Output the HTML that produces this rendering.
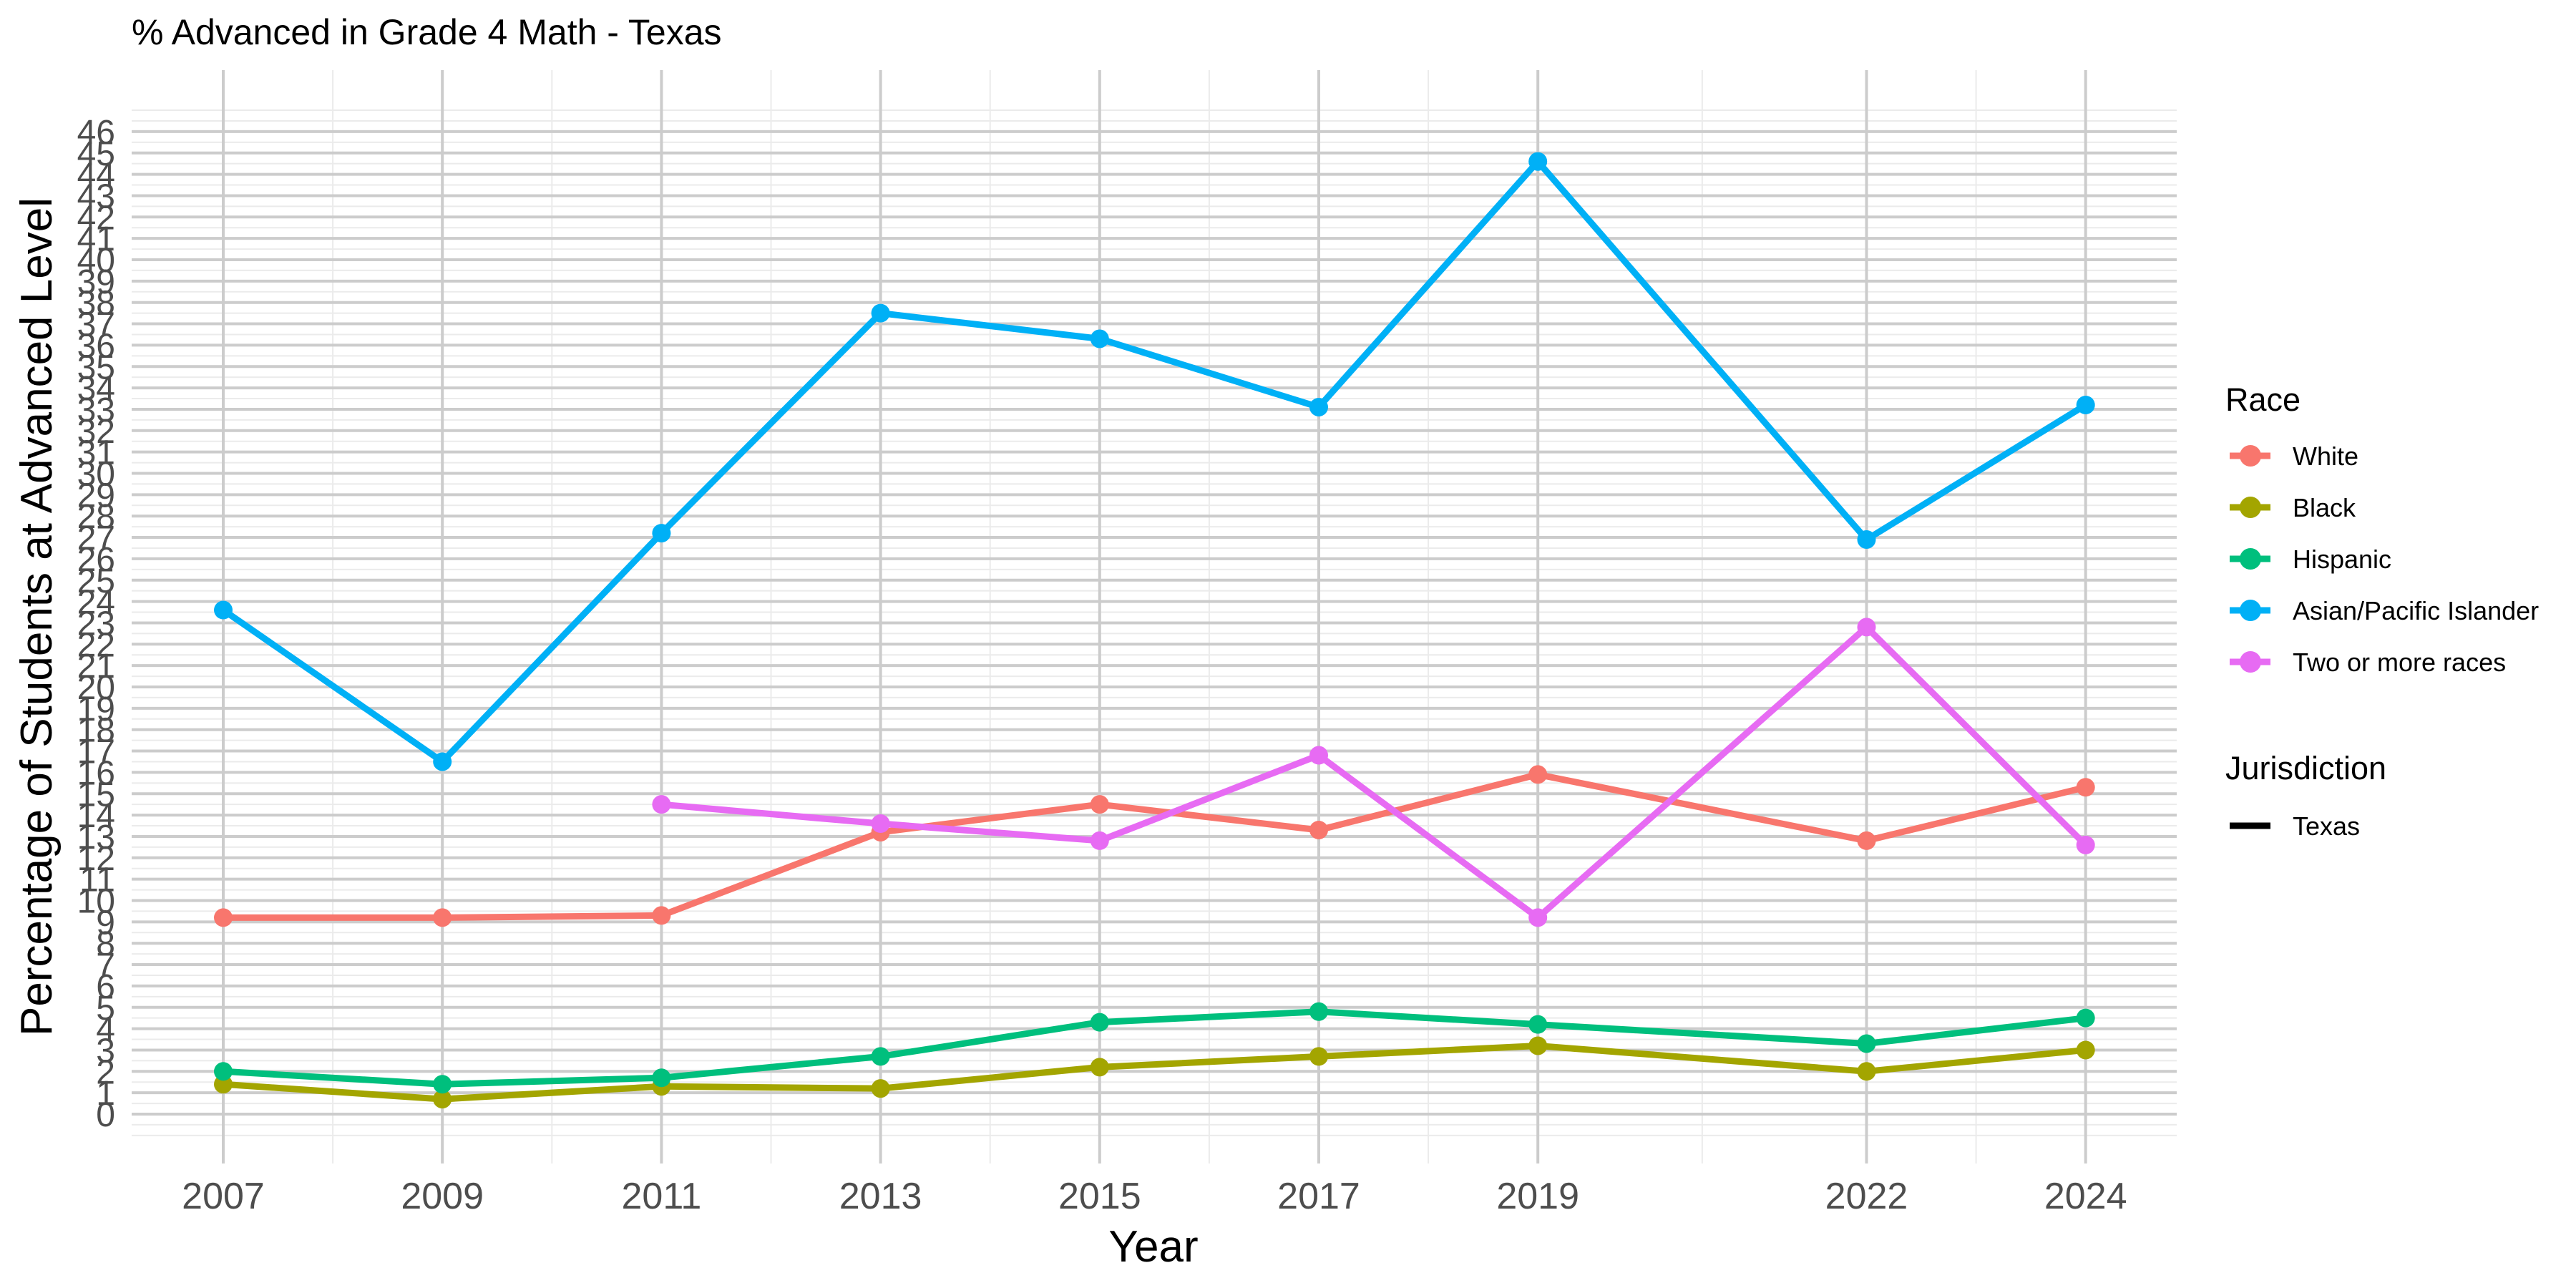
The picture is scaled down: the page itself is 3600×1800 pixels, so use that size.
<!DOCTYPE html>
<html><head><meta charset="utf-8"><style>
html,body{margin:0;padding:0;background:#fff;}
svg{display:block;font-family:"Liberation Sans",Arial,sans-serif;}
</style></head><body>
<svg id="chart" width="3600" height="1800" viewBox="0 0 3600 1800" xmlns="http://www.w3.org/2000/svg">
<rect width="3600" height="1800" fill="#fff"/>
<text x="184" y="62" font-size="50" fill="#000">% Advanced in Grade 4 Math - Texas</text>
<g id="grid"></g>
<g id="yticks"></g>
<g id="xticks"></g>
<g id="series"></g>
<text transform="translate(72,862) rotate(-90)" text-anchor="middle" font-size="62" fill="#000">Percentage of Students at Advanced Level</text>
<text x="1612" y="1763" text-anchor="middle" font-size="62" fill="#000">Year</text>
<g id="legend">
<text x="3110" y="574" font-size="45" fill="#000">Race</text>
<text x="3110" y="1089" font-size="45" fill="#000">Jurisdiction</text>
<line x1="3116" x2="3173" y1="1154" y2="1154" stroke="#000" stroke-width="9"/>
<text x="3204" y="1167" font-size="36" fill="#000">Texas</text>
</g>
</svg>
<script>
const years = [2007, 2009, 2011, 2013, 2015, 2017, 2019, 2022, 2024];
const raceNames = ["White", "Black", "Hispanic", "Asian/Pacific Islander", "Two or more races"];
const raceColors = ["#F8766D", "#A3A500", "#00BF7D", "#00B0F6", "#E76BF3"];
const whiteVals = [9.2, 9.2, 9.3, 13.2, 14.5, 13.3, 15.9, 12.8, 15.3];
const blackVals = [1.4, 0.7, 1.3, 1.2, 2.2, 2.7, 3.2, 2.0, 3.0];
const hispanicVals = [2.0, 1.4, 1.7, 2.7, 4.3, 4.8, 4.2, 3.3, 4.5];
const asianVals = [23.6, 16.5, 27.2, 37.5, 36.3, 33.1, 44.6, 26.9, 33.2];
const twoVals = [null, null, 14.5, 13.6, 12.8, 16.8, 9.2, 22.8, 12.6];
const yTicks = [0,1,2,3,4,5,6,7,8,9,10,11,12,13,14,15,16,17,18,19,20,21,22,23,24,25,26,27,28,29,30,31,32,33,34,35,36,37,38,39,40,41,42,43,44,45,46];

const NS = "http://www.w3.org/2000/svg";
const X0 = 312, PX_PER_YEAR = 153.1;
const Y0 = 1557, PX_PER_UNIT = 29.85;
const PANEL_L = 184, PANEL_R = 3042, PANEL_T = 98, PANEL_B = 1626;
function xScale(yr){ return X0 + (yr - years[0]) * PX_PER_YEAR; }
function yScale(v){ return Y0 - v * PX_PER_UNIT; }
function mk(tag, attrs, parent){ const e = document.createElementNS(NS, tag); for (const k in attrs) e.setAttribute(k, attrs[k]); parent.appendChild(e); return e; }

const grid = document.getElementById("grid");
// minor horizontal lines
for (let v = -1; v <= 47.01; v += 0.5) {
  if (Number.isInteger(v) && v >= 0 && v <= 46) continue;
  const l = mk("line", {x1: PANEL_L, x2: PANEL_R, y1: yScale(v), y2: yScale(v), stroke: "#ebebeb", "stroke-width": 2}, grid);
  
  
}
// minor vertical lines
for (let i = 0; i < years.length - 1; i++) {
  const m = (years[i] + years[i+1]) / 2;
  const l = mk("line", {x1: xScale(m), x2: xScale(m), y1: PANEL_T, y2: PANEL_B, stroke: "#ebebeb", "stroke-width": 2}, grid);
  
  
}
// major horizontal
const yt = document.getElementById("yticks");
yTicks.forEach(v => {
  const l = mk("line", {x1: PANEL_L, x2: PANEL_R, y1: yScale(v), y2: yScale(v), stroke: "#cccccc", "stroke-width": 4}, grid);
  
  
  const t = mk("text", {x: 161, y: yScale(v) + 17, "text-anchor": "end", "font-size": 48, fill: "#4d4d4d"}, yt);
  t.textContent = String(v);
  
  
});
// major vertical
const xt = document.getElementById("xticks");
years.forEach(yr => {
  const l = mk("line", {x1: xScale(yr), x2: xScale(yr), y1: PANEL_T, y2: PANEL_B, stroke: "#cccccc", "stroke-width": 4}, grid);
  
  
  const t = mk("text", {x: xScale(yr), y: 1689, "text-anchor": "middle", "font-size": 52, fill: "#4d4d4d"}, xt);
  t.textContent = String(yr);
  
  
});

const allVals = [whiteVals, blackVals, hispanicVals, asianVals, twoVals];
const seriesG = document.getElementById("series");
allVals.forEach((vals, si) => {
  const g = mk("g", {}, seriesG);
  
  
  const pts = [];
  vals.forEach((v, i) => { if (v !== null) pts.push([xScale(years[i]), yScale(v)]); });
  const p = mk("polyline", {points: pts.map(q => q.join(",")).join(" "), fill: "none", stroke: raceColors[si], "stroke-width": 9, "stroke-linejoin": "round"}, g);
  
  
  pts.forEach(q => {
    const c = mk("circle", {cx: q[0], cy: q[1], r: 13, fill: raceColors[si]}, g);
    
    
  });
});

const legend = document.getElementById("legend");
raceNames.forEach((n, i) => {
  const cy = 637 + i * 72;
  const l = mk("line", {x1: 3116, x2: 3173, y1: cy, y2: cy, stroke: raceColors[i], "stroke-width": 9}, legend);
  
  
  const c = mk("circle", {cx: 3145, cy: cy, r: 15, fill: raceColors[i]}, legend);
  
  
  const t = mk("text", {x: 3204, y: cy + 13, "font-size": 36, fill: "#000"}, legend);
  t.textContent = n;
  
  
});
</script>
</body></html>
